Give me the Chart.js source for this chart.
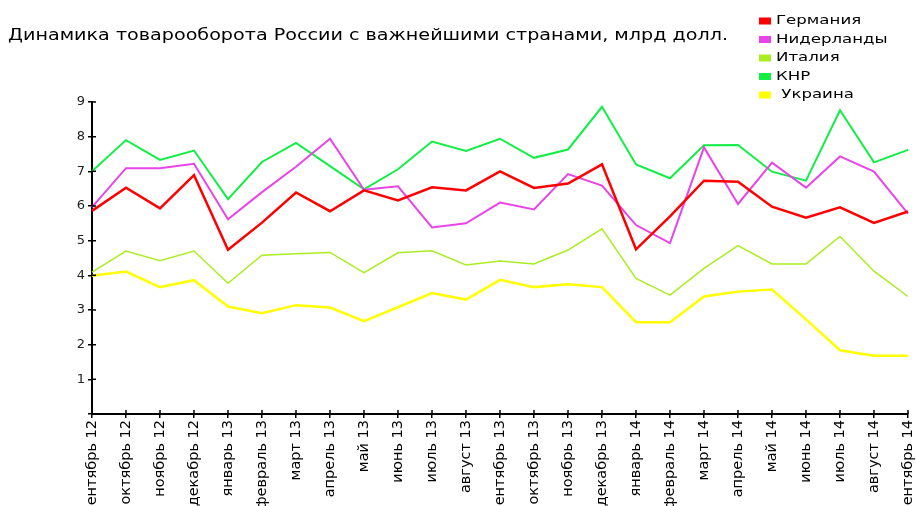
<!DOCTYPE html>
<html>
<head>
<meta charset="utf-8">
<script src="https://cdn.jsdelivr.net/npm/chart.js@4/dist/chart.umd.min.js"></script>
<style>
  body { margin: 0; background: #fff; }
  canvas { display: block; }
</style>
</head>
<body>
<canvas id="chart" width="916" height="506"></canvas>
<script>
const titleText = "Динамика товарооборота России с важнейшими странами, млрд долл.";

const months = ["сентябрь 12", "октябрь 12", "ноябрь 12", "декабрь 12", "январь 13", "февраль 13",
    "март 13", "апрель 13", "май 13", "июнь 13", "июль 13", "август 13", "сентябрь 13",
    "октябрь 13", "ноябрь 13", "декабрь 13", "январь 14", "февраль 14", "март 14",
    "апрель 14", "май 14", "июнь 14", "июль 14", "август 14", "сентябрь 14"];

const seriesNames = ["Германия", "Нидерланды", "Италия", "КНР", " Украина"];

const germany = [5.86, 6.53, 5.93, 6.89, 4.74, 5.52, 6.39, 5.85, 6.45, 6.16, 6.54, 6.45, 7.0,
    6.52, 6.65, 7.2, 4.75, 5.7, 6.73, 6.7, 5.98, 5.66, 5.96, 5.51, 5.84];
const netherlands = [5.97, 7.09, 7.09, 7.22, 5.62, 6.4, 7.13, 7.94, 6.47, 6.57, 5.38, 5.5, 6.1,
    5.9, 6.92, 6.59, 5.45, 4.93, 7.69, 6.06, 7.25, 6.53, 7.43, 6.99, 5.78];
const italy = [4.09, 4.7, 4.42, 4.7, 3.77, 4.58, 4.62, 4.66, 4.08, 4.65, 4.71, 4.3, 4.41,
    4.33, 4.73, 5.34, 3.91, 3.43, 4.2, 4.86, 4.33, 4.33, 5.12, 4.12, 3.39];
const china = [7.0, 7.9, 7.33, 7.6, 6.2, 7.27, 7.82, 7.15, 6.48, 7.06, 7.86, 7.59, 7.94,
    7.39, 7.63, 8.86, 7.2, 6.8, 7.75, 7.76, 6.99, 6.73, 8.76, 7.26, 7.62];
const ukraine = [3.99, 4.11, 3.66, 3.86, 3.1, 2.91, 3.14, 3.07, 2.68, 3.08, 3.49, 3.3, 3.87,
    3.66, 3.74, 3.66, 2.65, 2.65, 3.39, 3.53, 3.59, 2.73, 1.84, 1.68, 1.68];

const seriesValues = [germany, netherlands, italy, china, ukraine];
const seriesColors = ["#ff0000", "#e844e8", "#aaee22", "#11ee44", "#ffff00"];
const seriesWidths = [2.5, 2, 1.5, 2, 2.5];

const FONT = '"DejaVu Sans", Verdana, sans-serif';

// title, legend and the inner half of the axis ticks
const overlay = {
    id: "overlay",
    afterDraw(chart) {
        const ctx = chart.ctx;
        ctx.save();
        ctx.font = "15px " + FONT;
        ctx.textBaseline = "middle";
        ctx.fillStyle = "#000";
        const sx = 720 / ctx.measureText(titleText).width;

        function stretched(text, x, y) {
            ctx.save();
            ctx.translate(x, y);
            ctx.scale(sx, 1);
            ctx.fillText(text, 0, 0);
            ctx.restore();
        }

        stretched(titleText, 8, 36);

        ctx.font = "13px " + FONT;
        seriesNames.forEach((name, i) => {
            const y = 21 + i * 18.5;
            ctx.fillStyle = seriesColors[i];
            ctx.fillRect(759, y - 3.5, 12, 7);
            ctx.fillStyle = "#000";
            stretched(name, 776, y);
        });

        const xs = chart.scales.x, ys = chart.scales.y;
        ctx.strokeStyle = "#000";
        ctx.lineWidth = 1.5;
        ctx.beginPath();
        ys.ticks.forEach((t, i) => {
            if (t.value === 0) return;
            const p = ys.getPixelForTick(i);
            ctx.moveTo(xs.left, p);
            ctx.lineTo(xs.left + 4, p);
        });
        xs.ticks.forEach((t, i) => {
            const p = xs.getPixelForTick(i);
            ctx.moveTo(p, ys.bottom);
            ctx.lineTo(p, ys.bottom - 4);
        });
        ctx.stroke();
        ctx.restore();
    }
};

new Chart(document.getElementById("chart"), {
    type: "line",
    data: {
        labels: months,
        datasets: seriesNames.map((name, i) => ({
            label: name,
            data: seriesValues[i],
            borderColor: seriesColors[i],
            backgroundColor: seriesColors[i],
            borderWidth: seriesWidths[i],
            pointRadius: 0,
            tension: 0,
            fill: false
        }))
    },
    options: {
        responsive: false,
        animation: false,
        layout: { padding: { top: 102, right: 8, left: 0, bottom: 0 } },
        plugins: {
            legend: { display: false },
            title: { display: false },
            tooltip: { enabled: false }
        },
        scales: {
            x: {
                offset: false,
                grid: { display: true, drawOnChartArea: false, tickLength: 4, color: "#000", lineWidth: 1.5 },
                border: { color: "#000", width: 2 },
                ticks: {
                    autoSkip: false,
                    maxRotation: 90,
                    minRotation: 90,
                    padding: 2,
                    color: "#000",
                    font: { family: FONT, size: 14.5 }
                },
                afterFit(scale) {
                    scale.height = 92;
                    scale.paddingLeft = 0;
                    scale.paddingRight = 0;
                }
            },
            y: {
                min: 0,
                max: 9,
                grid: { display: true, drawOnChartArea: false, tickLength: 4, color: "#000", lineWidth: 1.5 },
                border: { color: "#000", width: 2 },
                ticks: {
                    stepSize: 1,
                    padding: 3,
                    color: "#222",
                    font: { family: FONT, size: 13 },
                    callback: v => v === 0 ? "" : v
                },
                afterFit(scale) {
                    scale.width = 92;
                    scale.paddingTop = 0;
                    scale.paddingBottom = 0;
                }
            }
        }
    },
    plugins: [overlay]
});
</script>
</body>
</html>
